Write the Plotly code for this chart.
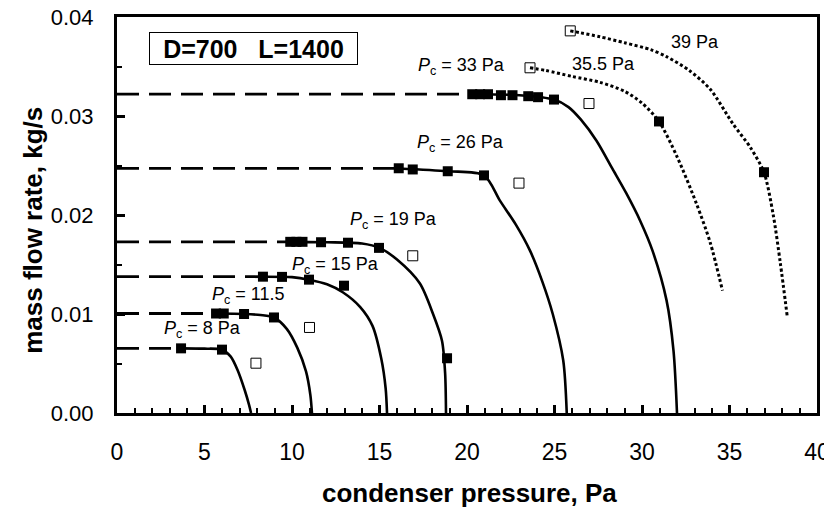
import plotly.graph_objects as go

# --- data ------------------------------------------------------------------
# plateau levels (dashed part, from p=0 up to the first measured point)
plateau_labels = ['8', '11.5', '15', '19', '26', '33']
plateau_level = [0.00653, 0.01005, 0.01377, 0.01729, 0.0247, 0.0322]
plateau_end = [3.66, 5.66, 8.34, 9.9, 16.1, 20.2]

# solid curves (model)
c8_x = [3.66, 5.0, 6.0, 6.5, 6.9, 7.3, 7.55, 7.66]
c8_y = [0.00653, 0.0065, 0.0064, 0.0057, 0.0043, 0.0023, 0.0008, 0.0]
c11_x = [5.66, 7.26, 8.2, 8.97, 9.7, 10.3, 10.8, 11.05, 11.14]
c11_y = [0.01005, 0.0100, 0.0099, 0.00965, 0.0085, 0.0066, 0.0042, 0.0018, 0.0]
c15_x = [8.34, 10.0, 10.97, 12.0, 12.9, 13.9, 14.6, 15.1, 15.35, 15.43]
c15_y = [0.01377, 0.01372, 0.01347, 0.0130, 0.0122, 0.0107, 0.0088, 0.0055, 0.0025, 0.0]
c19_x = [9.9, 12.0, 14.0, 15.0, 16.0, 17.3, 18.06, 18.57, 18.75, 18.8]
c19_y = [0.01729, 0.01725, 0.01712, 0.01668, 0.0155, 0.0131, 0.0100, 0.0073, 0.0040, 0.0]
c26_x = [16.1, 18.9, 20.97, 21.9, 22.8, 23.6, 24.3, 24.9, 25.5, 25.7]
c26_y = [0.0247, 0.02442, 0.0240, 0.0214, 0.0190, 0.0164, 0.0133, 0.0100, 0.0053, 0.0]
c33_x = [20.2, 23.0, 24.97, 25.8, 26.5, 27.4, 28.3, 29.1, 29.9, 30.6, 31.4, 31.8, 32.0]
c33_y = [0.0322, 0.0321, 0.03166, 0.0309, 0.02965, 0.0275, 0.0247, 0.0222, 0.0194,
         0.0164, 0.0114, 0.0063, 0.0]

# dotted curves (35.5 Pa and 39 Pa)
c355_x = [23.6, 24.5, 26.0, 27.6, 29.0, 30.0, 30.97, 32.0, 33.1, 33.9, 34.6]
c355_y = [0.03487, 0.0346, 0.0340, 0.0334, 0.0325, 0.0313, 0.02945, 0.0259, 0.0212,
          0.0172, 0.01236]
c39_x = [25.9, 26.5, 27.6, 29.0, 30.5, 31.4, 32.7, 33.9, 35.2, 36.2, 36.97, 37.5, 37.9, 38.3]
c39_y = [0.0386, 0.0384, 0.0380, 0.0374, 0.0367, 0.0360, 0.0346, 0.0327, 0.0292,
         0.0268, 0.0243, 0.0200, 0.0152, 0.00975]

# measured points (filled squares)
meas_x = [3.66, 6.0,
          5.66, 6.1, 7.26, 8.97,
          8.34, 9.43, 10.97, 12.97,
          9.9, 10.25, 10.6, 11.66, 13.2, 14.97, 18.86,
          16.1, 16.9, 18.9, 20.97,
          20.3, 20.75, 21.2, 21.94, 22.6, 23.5, 24.06, 24.97,
          30.97, 36.97]
meas_y = [0.00653, 0.0064,
          0.01005, 0.01005, 0.0100, 0.00965,
          0.01377, 0.01375, 0.01347, 0.01286,
          0.01729, 0.01729, 0.01729, 0.01725, 0.0172, 0.01668, 0.00553,
          0.02472, 0.0246, 0.02442, 0.0240,
          0.0322, 0.0322, 0.0322, 0.0321, 0.0321, 0.0320, 0.0319, 0.03166,
          0.02945, 0.02432]

# open squares
open_x = [7.94, 11.0, 16.9, 22.97, 26.97, 23.6, 25.9]
open_y = [0.00503, 0.00864, 0.01588, 0.02322, 0.03126, 0.03487, 0.0386]

# curve labels
lab_text = ['<i>P</i><sub>c</sub> = 8 Pa', '<i>P</i><sub>c</sub> = 11.5',
            '<i>P</i><sub>c</sub> = 15 Pa', '<i>P</i><sub>c</sub> = 19 Pa',
            '<i>P</i><sub>c</sub> = 26 Pa', '<i>P</i><sub>c</sub> = 33 Pa',
            '35.5 Pa', '39 Pa']
lab_x = [4.86, 7.54, 12.5, 15.8, 19.6, 19.7, 27.8, 33.0]
lab_y = [0.0084, 0.0119, 0.0149, 0.0194, 0.0272, 0.0350, 0.0353, 0.0375]

FONT = 'Liberation Sans, Arial, sans-serif'

fig = go.Figure()

for lvl, xe in zip(plateau_level, plateau_end):
    fig.add_trace(go.Scatter(x=[0, xe], y=[lvl, lvl], mode='lines',
                             line=dict(color='black', width=2.8, dash='22px,10px'),
                             hoverinfo='skip'))

for cx, cy in [(c8_x, c8_y), (c11_x, c11_y), (c15_x, c15_y),
               (c19_x, c19_y), (c26_x, c26_y), (c33_x, c33_y)]:
    fig.add_trace(go.Scatter(x=cx, y=cy, mode='lines',
                             line=dict(color='black', width=2.6, shape='spline', smoothing=0.8)))

for cx, cy in [(c355_x, c355_y), (c39_x, c39_y)]:
    fig.add_trace(go.Scatter(x=cx, y=cy, mode='lines',
                             line=dict(color='black', width=3, dash='3px,2.5px',
                                       shape='spline', smoothing=0.8)))

fig.add_trace(go.Scatter(x=meas_x, y=meas_y, mode='markers',
                         marker=dict(symbol='square', size=10, color='black',
                                     line=dict(color='black', width=0))))
fig.add_trace(go.Scatter(x=open_x, y=open_y, mode='markers',
                         marker=dict(symbol='square-open', size=10, color='black',
                                     line=dict(width=1))))

for t, x, y in zip(lab_text, lab_x, lab_y):
    fig.add_annotation(x=x, y=y, text=t, showarrow=False,
                       font=dict(family=FONT, size=18, color='black'))

fig.add_annotation(x=7.8, y=0.0368, text='<b>D=700   L=1400</b>', showarrow=False,
                   font=dict(family=FONT, size=25, color='black'),
                   bordercolor='black', borderwidth=1, borderpad=1,
                   width=205, height=29, bgcolor='white')

# axis titles as annotations for exact placement
fig.add_annotation(xref='paper', yref='paper', x=0.504, y=-0.203,
                   xanchor='center', yanchor='middle', showarrow=False,
                   text='<b>condenser pressure, Pa</b>',
                   font=dict(family=FONT, size=26, color='black'))
fig.add_annotation(xref='paper', yref='paper', x=-0.12, y=0.46,
                   xanchor='center', yanchor='middle', showarrow=False,
                   textangle=-90, text='<b>mass flow rate, kg/s</b>',
                   font=dict(family=FONT, size=26, color='black'))

fig.update_xaxes(range=[0, 40], dtick=5, tickformat='d', automargin=False,
                 showgrid=False, zeroline=False,
                 showline=True, linecolor='black', linewidth=3, mirror=True,
                 ticks='inside', ticklen=8, tickwidth=2.5, tickcolor='black',
                 minor=dict(dtick=1, ticks='inside', ticklen=5, tickwidth=2, tickcolor='black'),
                 ticklabelstandoff=16, ticklabeloverflow='allow',
                 tickfont=dict(family=FONT, size=23, color='black'))
fig.update_yaxes(range=[0, 0.04], dtick=0.01, tickformat='.2f', automargin=False,
                 showgrid=False, zeroline=False,
                 showline=True, linecolor='black', linewidth=3, mirror=True,
                 ticks='inside', ticklen=8, tickwidth=2.5, tickcolor='black',
                 minor=dict(dtick=0.005, ticks='inside', ticklen=5, tickwidth=2, tickcolor='black'),
                 ticklabelstandoff=16, ticklabeloverflow='allow',
                 tickfont=dict(family=FONT, size=22, color='black'))

# the page body adds an 8px offset, so the figure is drawn 8px smaller
fig.update_layout(width=824, height=503,
                  margin=dict(l=109, r=15, t=9, b=98),
                  plot_bgcolor='white', paper_bgcolor='white',
                  showlegend=False)

fig.write_html('out.html')
